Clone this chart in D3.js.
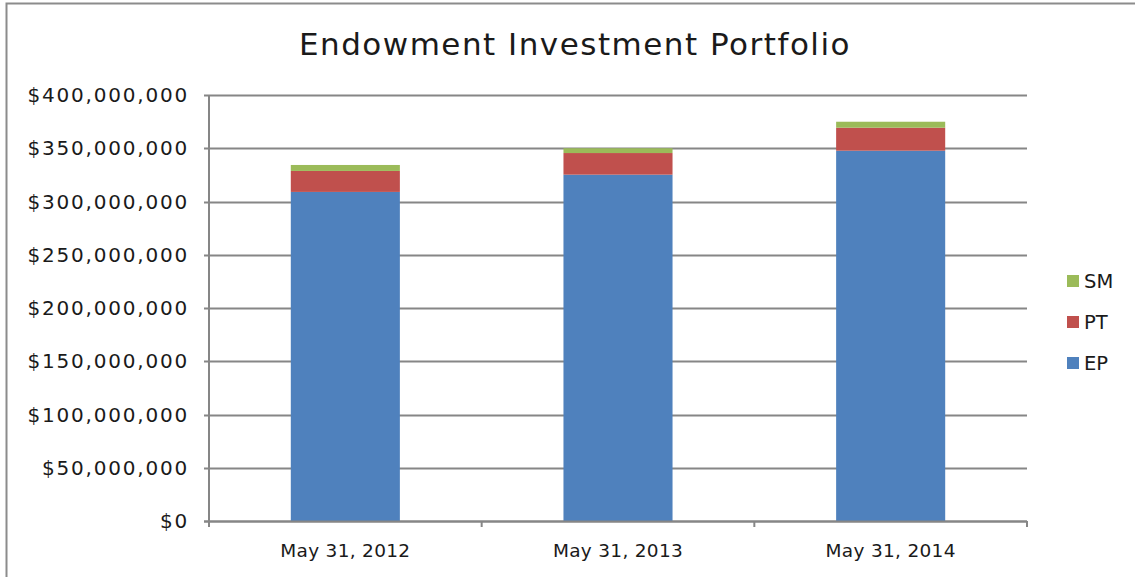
<!DOCTYPE html>
<html>
<head>
<meta charset="utf-8">
<script src="https://cdn.jsdelivr.net/npm/d3@7"></script>
<style>
  body { margin: 0; background: #fff; }
  text { font-family: "DejaVu Sans", sans-serif; fill: #1a1a1a; }
</style>
</head>
<body>
<svg id="chart" width="1135" height="577"></svg>
<script>
// values
let categories = ['May 31, 2012', 'May 31, 2013', 'May 31, 2014']
let seriesNames = ['EP', 'PT', 'SM']
let EP = [309000000, 325200000, 347700000]
let PT = [19700000, 20300000, 21600000]
let SM = [5600000, 4500000, 5600000]
let yTicks = [0, 50000000, 100000000, 150000000, 200000000, 250000000, 300000000, 350000000, 400000000]
let colors = {EP: '#4F81BD', PT: '#C0504D', SM: '#9BBB59'}

let rows = categories.map((c, i) => ({cat: c, EP: EP[i], PT: PT[i], SM: SM[i]}))
let stacked = d3.stack().keys(seriesNames)(rows)

let svg = d3.select('#chart')

// outer frame
svg.append('rect')
  .attr('x', 6.5).attr('y', 3.5)
  .attr('width', 1140).attr('height', 600)
  .attr('fill', 'none').attr('stroke', '#8c8c8c').attr('stroke-width', 2)

let plotLeft = 209, plotRight = 1027, plotTop = 95, plotBottom = 521

let x = d3.scaleBand().domain(categories).range([plotLeft, plotRight]).paddingInner(0.6).paddingOuter(0.3)
let y = d3.scaleLinear().domain([0, 400000000]).range([plotBottom, plotTop])

// gridlines
svg.append('g').selectAll('line')
  .data(yTicks)
  .enter()
  .append('line')
  .attr('x1', plotLeft - 5).attr('x2', plotRight)
  .attr('y1', d => Math.round(y(d)) + 0.5).attr('y2', d => Math.round(y(d)) + 0.5)
  .attr('stroke', '#868686').attr('stroke-width', 2)

// y axis line
svg.append('line')
  .attr('x1', plotLeft).attr('x2', plotLeft)
  .attr('y1', plotTop).attr('y2', plotBottom + 5)
  .attr('stroke', '#868686').attr('stroke-width', 2)

// y labels
let fmt = d3.format('$,')
svg.append('g').selectAll('text')
  .data(yTicks)
  .enter()
  .append('text')
  .text(d => fmt(d))
  .attr('x', 189)
  .attr('y', d => y(d))
  .attr('dy', '0.36em')
  .attr('text-anchor', 'end')
  .style('font-size', '20px')
  .style('letter-spacing', '1.8px')

// bars
svg.append('g').selectAll('g')
  .data(stacked)
  .enter()
  .append('g')
  .attr('fill', d => colors[d.key])
  .selectAll('rect')
  .data(d => d)
  .enter()
  .append('rect')
  .attr('x', d => x(d.data.cat))
  .attr('width', x.bandwidth())
  .attr('y', d => y(d[1]))
  .attr('height', d => y(d[0]) - y(d[1]))

// x axis
svg.append('line')
  .attr('x1', plotLeft - 5).attr('x2', plotRight)
  .attr('y1', plotBottom + 0.5).attr('y2', plotBottom + 0.5)
  .attr('stroke', '#868686').attr('stroke-width', 2)

let tickXs = d3.range(categories.length + 1).map(i => plotLeft + i * (plotRight - plotLeft) / categories.length)
svg.append('g').selectAll('line')
  .data(tickXs)
  .enter()
  .append('line')
  .attr('x1', d => d).attr('x2', d => d)
  .attr('y1', plotBottom).attr('y2', plotBottom + 6)
  .attr('stroke', '#868686').attr('stroke-width', 2)

svg.append('g').selectAll('text')
  .data(categories)
  .enter()
  .append('text')
  .text(d => d)
  .attr('x', d => x(d) + x.bandwidth() / 2)
  .attr('y', 557)
  .attr('text-anchor', 'middle')
  .style('font-size', '18.5px')
  .style('letter-spacing', '0.3px')

// title
svg.append('text')
  .text('Endowment Investment Portfolio')
  .attr('x', 575).attr('y', 55)
  .attr('text-anchor', 'middle')
  .style('font-size', '31px')
  .style('letter-spacing', '1.5px')

// legend (top to bottom: SM, PT, EP)
let legendItems = seriesNames.slice().reverse()
let lg = svg.append('g').selectAll('g')
  .data(legendItems)
  .enter()
  .append('g')
  .attr('transform', (d, i) => 'translate(1067,' + (281 + i * 41) + ')')
lg.append('rect')
  .attr('x', 0).attr('y', -6)
  .attr('width', 12).attr('height', 12)
  .attr('fill', d => colors[d])
lg.append('text')
  .text(d => d)
  .attr('x', 17).attr('dy', '0.36em')
  .style('font-size', '19.5px')
</script>
</body>
</html>
